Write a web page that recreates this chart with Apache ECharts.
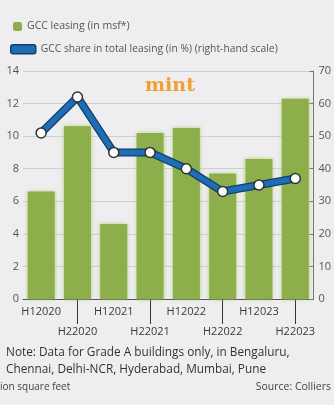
<!DOCTYPE html>
<html>
<head>
<meta charset="utf-8">
<script src="https://cdn.jsdelivr.net/npm/echarts@6/dist/echarts.min.js"></script>
<style>
html,body{margin:0;padding:0;background:#eeeef0;}
#c{width:334px;height:405px;}
</style>
</head>
<body>
<div id="c"></div>
<script>
var categories = ['H12020','H22020','H12021','H22021','H12022','H22022','H12023','H22023'];
var leasing = [6.6, 10.6, 4.6, 10.2, 10.5, 7.7, 8.6, 12.3];
var share = [51, 62, 45, 45, 40, 33, 35, 37];
var leftTicks = {min: 0, max: 14, interval: 2};
var rightTicks = {min: 0, max: 70, interval: 10};
var barName = 'GCC leasing (in msf*)';
var lineName = 'GCC share in total leasing (in %) (right-hand scale)';

var font = '"Open Sans", sans-serif';
var chart = echarts.init(document.getElementById('c'), null, {renderer: 'canvas'});
chart.setOption({
  backgroundColor: '#eeeef0',
  animation: false,
  textStyle: {fontFamily: font},
  legend: [
    {data: [barName], left: 8, top: 16, itemWidth: 9, itemHeight: 9, itemGap: 4,
     textStyle: {fontFamily: font, fontSize: 10.5, color: '#555'}},
    {data: [{name: lineName, icon: 'roundRect'}], left: 5, top: 39, itemWidth: 25, itemHeight: 9, itemGap: 3,
     itemStyle: {color: '#1f6db5', borderColor: '#12406e', borderWidth: 1.5},
     textStyle: {fontFamily: font, fontSize: 10.3, color: '#555'}}
  ],
  grid: {left: 23, right: 18, top: 71, bottom: 106, containLabel: false},
  xAxis: {
    type: 'category',
    data: categories,
    axisLine: {lineStyle: {color: '#555', width: 1.2}},
    axisTick: {show: true, alignWithLabel: true, length: 25,
      interval: function (i) { return i % 2 === 1; },
      lineStyle: {color: '#333', width: 1}},
    axisLabel: {interval: 0, margin: 3, lineHeight: 20, fontSize: 11, color: '#3a3a3a', fontFamily: font,
      formatter: function (v, i) { return i % 2 ? '\n' + v : v; }}
  },
  yAxis: [
    {type: 'value', min: leftTicks.min, max: leftTicks.max, interval: leftTicks.interval,
     axisLine: {show: false}, axisTick: {show: false},
     axisLabel: {margin: 4, fontSize: 11, color: '#555', fontFamily: font},
     splitLine: {lineStyle: {color: '#cfcfd2', width: 1}}},
    {type: 'value', min: rightTicks.min, max: rightTicks.max, interval: rightTicks.interval,
     axisLine: {show: true, lineStyle: {color: '#777', width: 1}},
     axisTick: {show: true, inside: true, length: 4, lineStyle: {color: '#777'}},
     axisLabel: {margin: 5, fontSize: 11, color: '#555', fontFamily: font},
     splitLine: {show: false}}
  ],
  series: [
    {name: barName, type: 'bar', data: leasing, barWidth: 27, yAxisIndex: 0,
     itemStyle: {color: '#8cae4b', shadowColor: 'rgba(170,205,110,0.9)', shadowBlur: 4}},
    {name: lineName + ' outline', type: 'line', data: share, yAxisIndex: 1, symbol: 'none',
     lineStyle: {color: '#123f6c', width: 8}, z: 3},
    {name: lineName, type: 'line', data: share, yAxisIndex: 1, symbol: 'circle', symbolSize: 10,
     lineStyle: {color: '#1f6db5', width: 5.5},
     itemStyle: {color: '#ffffff', borderColor: '#333', borderWidth: 1.5}, z: 4}
  ],
  graphic: [
    {type: 'text', left: 145, top: 77, style: {text: 'mint', fill: '#f0a030',
      font: 'bold 19px "DejaVu Serif", serif'}},
    {type: 'text', left: 6, top: 347, style: {text: 'Note: Data for Grade A buildings only, in Bengaluru,', fill: '#333',
      font: '11.8px "Open Sans", sans-serif'}},
    {type: 'text', left: 6, top: 364, style: {text: 'Chennai, Delhi-NCR, Hyderabad, Mumbai, Pune', fill: '#333',
      font: '11.8px "Open Sans", sans-serif'}},
    {type: 'text', left: 0, top: 382, style: {text: 'ion square feet', fill: '#444',
      font: '10px "Open Sans", sans-serif'}},
    {type: 'text', right: 3, top: 382, style: {text: 'Source: Colliers', fill: '#444',
      font: '10.5px "Open Sans", sans-serif'}}
  ]
});
</script>
</body>
</html>
